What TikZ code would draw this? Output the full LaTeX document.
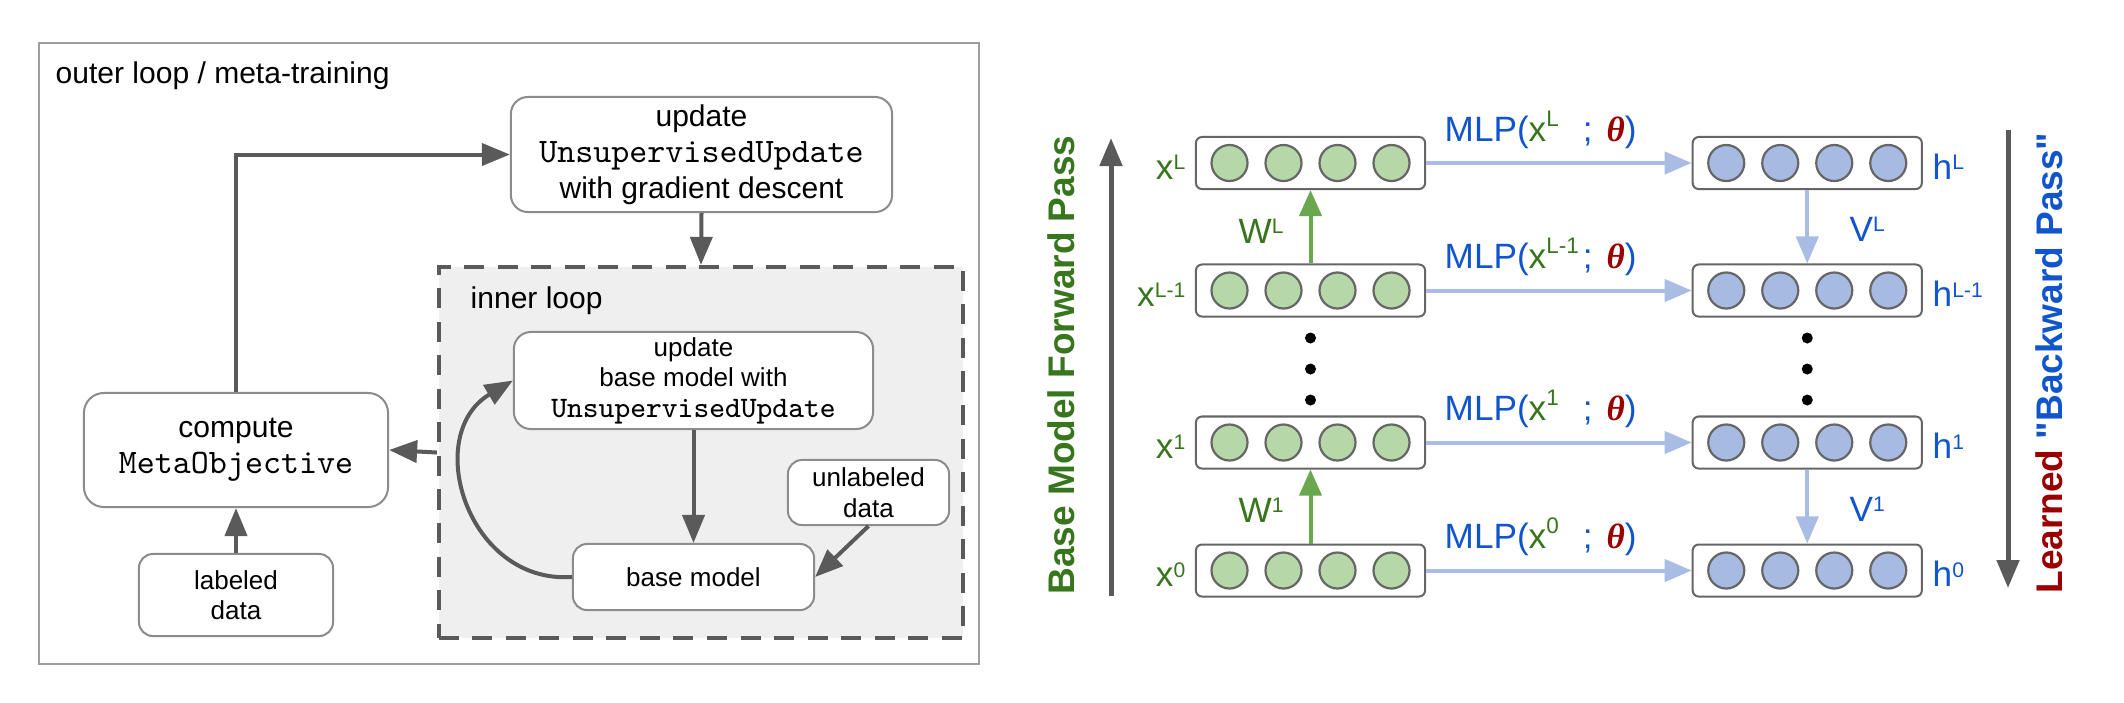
\documentclass[tikz,border=0pt]{standalone}
\usepackage{fontspec}
\setmainfont{Liberation Sans}
\setmonofont{Latin Modern Mono}[Scale=1.143]
\newfontfamily\thfont{Liberation Serif}
\font\qbold="Liberation Sans/B" at 10.53pt
\usetikzlibrary{arrows.meta}
\definecolor{boxgray}{HTML}{8C8C8C}
\definecolor{outergray}{HTML}{9E9E9E}
\definecolor{arrowgray}{HTML}{5A5A5A}
\definecolor{innerfill}{HTML}{EFEFEF}
\definecolor{rstroke}{HTML}{666666}
\definecolor{gfill}{HTML}{B6D7A8}
\definecolor{bfill}{HTML}{A7BAE2}
\definecolor{garrowc}{HTML}{6AA84F}
\definecolor{barrowc}{HTML}{A9BCE4}
\definecolor{tgreen}{HTML}{38761D}
\definecolor{tblue}{HTML}{1155CC}
\definecolor{tred}{HTML}{990000}
\newcommand{\lsup}[1]{\raisebox{0.26em}{\fontsize{6pt}{6pt}\selectfont #1}}
\newcommand{\msup}[1]{\raisebox{0.42em}{\fontsize{6.4pt}{6.4pt}\selectfont #1}}
\newcommand{\mlp}[1]{{\color{tblue}MLP(}{\color{tgreen}x\makebox[1.04em][l]{\msup{#1}}}{\color{tblue};\hspace{0.12em}~}{\color{tred}\thfont\bfseries\itshape θ}{\color{tblue})}}
\newcommand{\sq}{{\qbold\char34}}
\tikzset{
  lbox/.style={draw=boxgray, line width=0.02cm, rounded corners=0.17cm, fill=white, align=center, inner sep=0pt},
  ftbig/.style={font=\fontsize{8.54pt}{10.24pt}\selectfont},
  ftsmall/.style={font=\fontsize{7.4pt}{8.7pt}\selectfont},
  grayarr/.style={line width=0.04cm, draw=arrowgray, -{Triangle[length=0.28cm,width=0.22cm]}},
  bigarr/.style={line width=0.05cm, draw=arrowgray, -{Triangle[length=0.28cm,width=0.22cm]}},
  grnarr/.style={line width=0.04cm, draw=garrowc, -{Triangle[length=0.26cm,width=0.22cm]}},
  bluarr/.style={line width=0.04cm, draw=barrowc, -{Triangle[length=0.27cm,width=0.22cm]}},
  layer/.style={draw=rstroke, line width=0.02cm, rounded corners=0.06cm, fill=white, minimum width=2.29cm, minimum height=0.52cm, inner sep=0pt},
  neuron/.style={circle, draw=rstroke, line width=0.022cm, minimum size=0.36cm, inner sep=0pt},
  lab/.style={inner sep=0pt, font=\fontsize{10pt}{12pt}\selectfont},
  mlab/.style={inner sep=0pt, anchor=base west, font=\fontsize{10pt}{12pt}\selectfont},
  sidetxt/.style={rotate=90, inner sep=0pt, font=\fontsize{10.53pt}{12pt}\selectfont\bfseries},
}
\begin{document}
\begin{tikzpicture}[x=0.01cm, y=-0.01cm]
\useasboundingbox (0,0) rectangle (2124,702);
\fill[white] (0,0) rectangle (2124,702);

% ---------------- left panel ----------------
\node[draw=outergray, line width=0.02cm, minimum width=9.40cm, minimum height=6.21cm, inner sep=0pt] (outer) at (509,353.5) {};
\node[ftbig, anchor=base west, inner sep=0pt] (outertxt) at (55,83) {outer loop / meta-training};

\node[draw=arrowgray, fill=innerfill, line width=0.04cm, dash pattern=on 0.2cm off 0.135cm, minimum width=5.24cm, minimum height=3.71cm, inner sep=0pt] (inner) at (701,452.5) {};
\node[ftbig, anchor=base west, inner sep=0pt] (innertxt) at (470,308) {inner loop};

\node[lbox, ftbig, minimum width=3.81cm, minimum height=1.15cm] (update) at (701.5,154.5)
  {update\\\texttt{UnsupervisedUpdate}\\with gradient descent};
\node[lbox, ftbig, rounded corners=0.2cm, minimum width=3.04cm, minimum height=1.14cm] (compute) at (236,450)
  {compute\\\texttt{MetaObjective}};
\node[lbox, ftsmall, rounded corners=0.14cm, minimum width=1.94cm, minimum height=0.82cm] (labeled) at (236,595)
  {labeled\\data};
\node[lbox, ftsmall, minimum width=3.59cm, minimum height=0.97cm] (iupd) at (693.5,380.5)
  {update\\base model with\\\texttt{UnsupervisedUpdate}};
\node[lbox, ftsmall, rounded corners=0.14cm, minimum width=2.41cm, minimum height=0.66cm] (base) at (693.5,577)
  {base model};
\node[lbox, ftsmall, rounded corners=0.14cm, minimum width=1.61cm, minimum height=0.65cm] (unlab) at (868.5,492.5)
  {unlabeled\\data};

\draw[grayarr] (compute.north) |- (update.west);
\draw[grayarr] (update.south) -- (inner.north);
\draw[grayarr] (inner.west) -- (compute.east);
\draw[grayarr] (labeled.north) -- (compute.south);
\draw[grayarr] (iupd.south) -- (base.north);
\draw[grayarr] (unlab.south) -- (base.east);
\draw[grayarr] (base.west) .. controls +(-105,7) and +(-91,54) .. (iupd.west);

% ---------------- right panel ----------------
\coordinate (fwdS) at (1111,596);
\coordinate (fwdN) at (1111,138);
\draw[bigarr] (fwdS) -- (fwdN);
\coordinate (bwdN) at (2008,130);
\coordinate (bwdS) at (2008,588);
\draw[bigarr] (bwdN) -- (bwdS);

\node[sidetxt, text=tgreen] (fwdtxt) at (1061,365) {Base Model Forward Pass};
\node[sidetxt] (bwdtxt) at (2049,363) {{\color{tred}Learned} {\color{tblue}\sq Backward Pass\sq}};

\foreach \n/\yy in {L/163, Lm/290.5, one/442.5, zero/570.5} {
  \node[layer] (g\n) at (1310.5,\yy) {};
  \node[layer] (b\n) at (1807.25,\yy) {};
  \foreach \k/\dx in {1/-81,2/-27,3/27,4/81} {
    \node[neuron, fill=gfill] (g\n\k) at (1310.5+\dx,\yy) {};
    \node[neuron, fill=bfill] (b\n\k) at (1807.25+\dx,\yy) {};
  }
  \draw[bluarr] (g\n.east) -- (b\n.west);
}

\draw[grnarr] (gLm.north) -- (gL.south);
\draw[grnarr] (gzero.north) -- (gone.south);
\draw[bluarr] (bL.south) -- (bLm.north);
\draw[bluarr] (bone.south) -- (bzero.north);

\foreach \yy in {338,369,400} {
  \fill[black] (1310.5,\yy) circle (0.055cm);
  \fill[black] (1807.25,\yy) circle (0.055cm);
}

\node[lab, text=tgreen, anchor=base east] (xL) at (1186,179) {x\lsup{L}};
\node[lab, text=tgreen, anchor=base east] (xLm) at (1186,306.5) {x\lsup{L-1}};
\node[lab, text=tgreen, anchor=base east] (x1) at (1186,458.5) {x\lsup{1}};
\node[lab, text=tgreen, anchor=base east] (x0) at (1186,586.5) {x\lsup{0}};

\node[lab, text=tblue, anchor=base west] (hL) at (1932,179) {h\lsup{L}};
\node[lab, text=tblue, anchor=base west] (hLm) at (1932,306.5) {h\lsup{L-1}};
\node[lab, text=tblue, anchor=base west] (h1) at (1932,458.5) {h\lsup{1}};
\node[lab, text=tblue, anchor=base west] (h0) at (1932,586.5) {h\lsup{0}};

\node[lab, text=tgreen, anchor=base west] (WL) at (1238,243) {W\lsup{L}};
\node[lab, text=tgreen, anchor=base west] (W1) at (1238,522) {W\lsup{1}};
\node[lab, text=tblue, anchor=base west] (VL) at (1849,241) {V\lsup{L}};
\node[lab, text=tblue, anchor=base west] (V1) at (1849,521) {V\lsup{1}};

\node[mlab] (mL) at (1444,141) {\mlp{L}};
\node[mlab] (mLm) at (1444,268.5) {\mlp{L-1}};
\node[mlab] (m1) at (1444,420.5) {\mlp{1}};
\node[mlab] (m0) at (1444,548.5) {\mlp{0}};
\end{tikzpicture}
\end{document}
